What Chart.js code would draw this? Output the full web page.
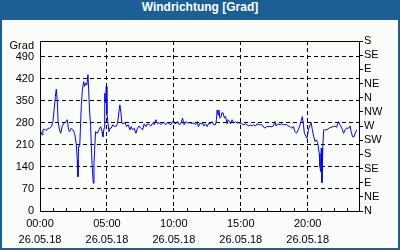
<!DOCTYPE html>
<html>
<head>
<meta charset="utf-8">
<script src="https://cdn.jsdelivr.net/npm/chart.js@4"></script>
<style>
    html, body { margin: 0; padding: 0; background: #1b5f95; }
    #frame { position: relative; width: 400px; height: 250px; background: #1b5f95; overflow: hidden; }
    #title { position: absolute; left: 0; top: 0; width: 400px; height: 20px; line-height: 20px; text-align: center; color: #fff; font: bold 12px "Liberation Sans", Arial, sans-serif; }
    #inner { position: absolute; left: 2px; top: 20px; width: 396px; height: 228px; background: #fbfdfb; }
</style>
</head>
<body>
<div id="frame">
    <div id="title">Windrichtung [Grad]</div>
    <div id="inner"><canvas id="chart" width="396" height="228"></canvas></div>
</div>
<script>
// Data (minutes since 00:00, direction in degrees)
const minutes = [
    0, 9, 13, 21, 28, 36, 43, 51, 58, 63, 69, 73, 78, 81, 87, 93, 99, 107, 118, 122,
    128, 133, 140, 148, 155, 163, 167, 170, 173, 178, 181, 185, 190, 196, 200, 205, 210, 215, 218, 222,
    227, 230, 234, 239, 242, 245, 249, 257, 264, 272, 278, 282, 287, 290, 294, 297, 300, 304, 309, 313,
    319, 327, 334, 342,
    348, 352, 358, 363, 367, 373, 381, 388, 395, 403, 409, 415, 422, 430, 437, 444, 452, 460, 467, 475,
    482, 490, 497, 505, 512, 519, 527, 534, 542, 549, 557, 564, 572, 579, 587, 594, 601, 609, 617, 624,
    631, 639, 646, 654, 662, 669, 676,
    690, 697, 705, 710, 717, 723, 730, 734, 742, 749, 757, 764, 771, 779, 787, 791, 794, 799, 802, 806,
    812, 816, 821, 827, 832, 839, 843, 850, 854, 861, 869, 876, 884, 891, 899, 905, 914, 921, 928, 936,
    943, 951, 958, 966, 973, 981, 988, 994, 1008, 1015,
    1039, 1046, 1053, 1058, 1066, 1076, 1083, 1091, 1098, 1106, 1114, 1121, 1128, 1136, 1143, 1150, 1158, 1166, 1170, 1176,
    1181, 1185, 1193, 1197, 1203, 1211, 1215, 1221, 1227, 1233, 1239, 1245, 1252, 1255, 1258, 1261, 1264, 1268, 1272, 1276,
    1286, 1295, 1304, 1315, 1322, 1330, 1338, 1345, 1353, 1361, 1368, 1375, 1383, 1390, 1395, 1401, 1408, 1413, 1420
];
const degrees = [
    258, 242, 258, 260, 255, 263, 263, 268, 284, 321, 364, 387, 343, 284, 258, 247, 268, 279, 284, 290,
    258, 252, 263, 258, 247, 210, 162, 109, 205, 205, 258, 332, 385, 411, 396, 406, 400, 433, 385, 321,
    268, 210, 141, 88, 152, 194, 252, 247, 258, 268, 252, 236, 263, 374, 343, 396, 311, 284, 252, 263,
    263, 274, 268, 270,
    279, 305, 337, 311, 279, 277, 281, 268, 274, 258, 268, 258, 263, 247, 263, 270, 263, 258, 277, 268,
    277, 274, 270, 279, 274, 290, 277, 281, 274, 279, 281, 274, 281, 277, 274, 284, 279, 277, 284, 274,
    277, 295, 274, 284, 279, 281, 279,
    279, 274, 284, 268, 279, 277, 279, 270, 277, 268, 279, 277, 284, 274, 274, 290, 321, 305, 321, 295,
    300, 313, 311, 295, 300, 277, 290, 284, 277, 290, 279, 284, 279, 281, 277, 277, 274, 277, 274, 270,
    274, 270, 274, 270, 277, 274, 274, 274, 263, 268,
    268, 270, 284, 270, 277, 274, 277, 274, 274, 274, 270, 268, 263, 268, 252, 247, 258, 274, 284, 300,
    274, 247, 236, 231, 258, 274, 281, 258, 236, 221, 226, 215, 183, 141, 125, 200, 90, 210, 258, 258,
    258, 263, 266, 268, 270, 266, 284, 274, 263, 247, 258, 263, 263, 270, 252, 236, 236, 247, 258
];

// Axis labels
const timeLabels = ['00:00', '05:00', '10:00', '15:00', '20:00'];
const dateLabel = '26.05.18';
const gradTicks = [0, 70, 140, 210, 280, 350, 420, 490];
const gradUnitPos = 525;
const compass = ['N', 'NE', 'E', 'SE', 'S', 'SW', 'W', 'NW'];

const hourMarks = [];
for (let m = 0; m < 1430; m += 60) hourMarks.push(m);
const compassMarks = [];
for (let d = 0; d <= 540; d += 45) compassMarks.push(d);

const clear = 'rgba(0,0,0,0)';

// plot frame (top edge is not drawn by any axis)
const framePlugin = {
    id: 'frame',
    afterDraw(chart) {
        const { ctx, chartArea: a } = chart;
        ctx.save();
        ctx.strokeStyle = '#000';
        ctx.lineWidth = 1;
        const l = Math.round(a.left), t = Math.round(a.top);
        const r = Math.round(a.right), b = Math.round(a.bottom);
        ctx.strokeRect(l + 0.5, t + 0.5, r - l, b - t);
        ctx.restore();
    }
};

Chart.defaults.font.family = '"Liberation Sans", Arial, sans-serif';
Chart.defaults.font.size = 11;
Chart.defaults.color = '#000';

new Chart(document.getElementById('chart'), {
    type: 'line',
    data: {
        datasets: [{
            data: minutes.map((m, i) => ({ x: m, y: degrees[i] })),
            borderColor: '#0000ff',
            borderWidth: 1,
            pointRadius: 0,
            tension: 0,
            fill: false,
            yAxisID: 'y'
        }]
    },
    options: {
        responsive: false,
        animation: false,
        layout: { padding: { top: 21, left: 0, right: 0, bottom: 0 } },
        plugins: { legend: { display: false }, tooltip: { enabled: false } },
        scales: {
            x: {
                type: 'linear',
                min: 0,
                max: 1430,
                afterBuildTicks: s => { s.ticks = hourMarks.map(v => ({ value: v })); },
                afterFit: s => { s.height = 37; },
                ticks: {
                    autoSkip: false,
                    maxRotation: 0,
                    padding: 8,
                    font: { size: 11, lineHeight: '16px' },
                    callback: v => v % 300 === 0 ? [timeLabels[v / 300], dateLabel] : ''
                },
                grid: {
                    tickLength: -3,
                    color: c => (c.tick && c.tick.value > 0 && c.tick.value % 300 === 0) ? '#000' : clear,
                    tickColor: '#000',
                    tickBorderDash: []
                },
                border: { color: '#000', dash: [4, 3] }
            },
            y: {
                position: 'left',
                min: 0,
                max: 540,
                afterBuildTicks: s => { s.ticks = gradTicks.concat([gradUnitPos]).map(v => ({ value: v })); },
                afterFit: s => { s.width = 38; },
                ticks: {
                    autoSkip: false,
                    padding: 6,
                    callback: v => v === gradUnitPos ? 'Grad' : String(v)
                },
                grid: {
                    drawTicks: false,
                    color: c => (c.tick && c.tick.value > 0 && c.tick.value <= 490) ? '#000' : clear
                },
                border: { color: '#000', dash: [4, 3] }
            },
            y2: {
                position: 'right',
                min: 0,
                max: 540,
                afterBuildTicks: s => { s.ticks = compassMarks.map(v => ({ value: v })); },
                afterFit: s => { s.width = 39; },
                ticks: {
                    autoSkip: false,
                    padding: 1,
                    callback: v => compass[(v / 45) % 8]
                },
                grid: { drawOnChartArea: false, tickLength: 4, color: '#000' },
                border: { color: '#000' }
            }
        }
    },
    plugins: [framePlugin]
});
</script>
</body>
</html>
